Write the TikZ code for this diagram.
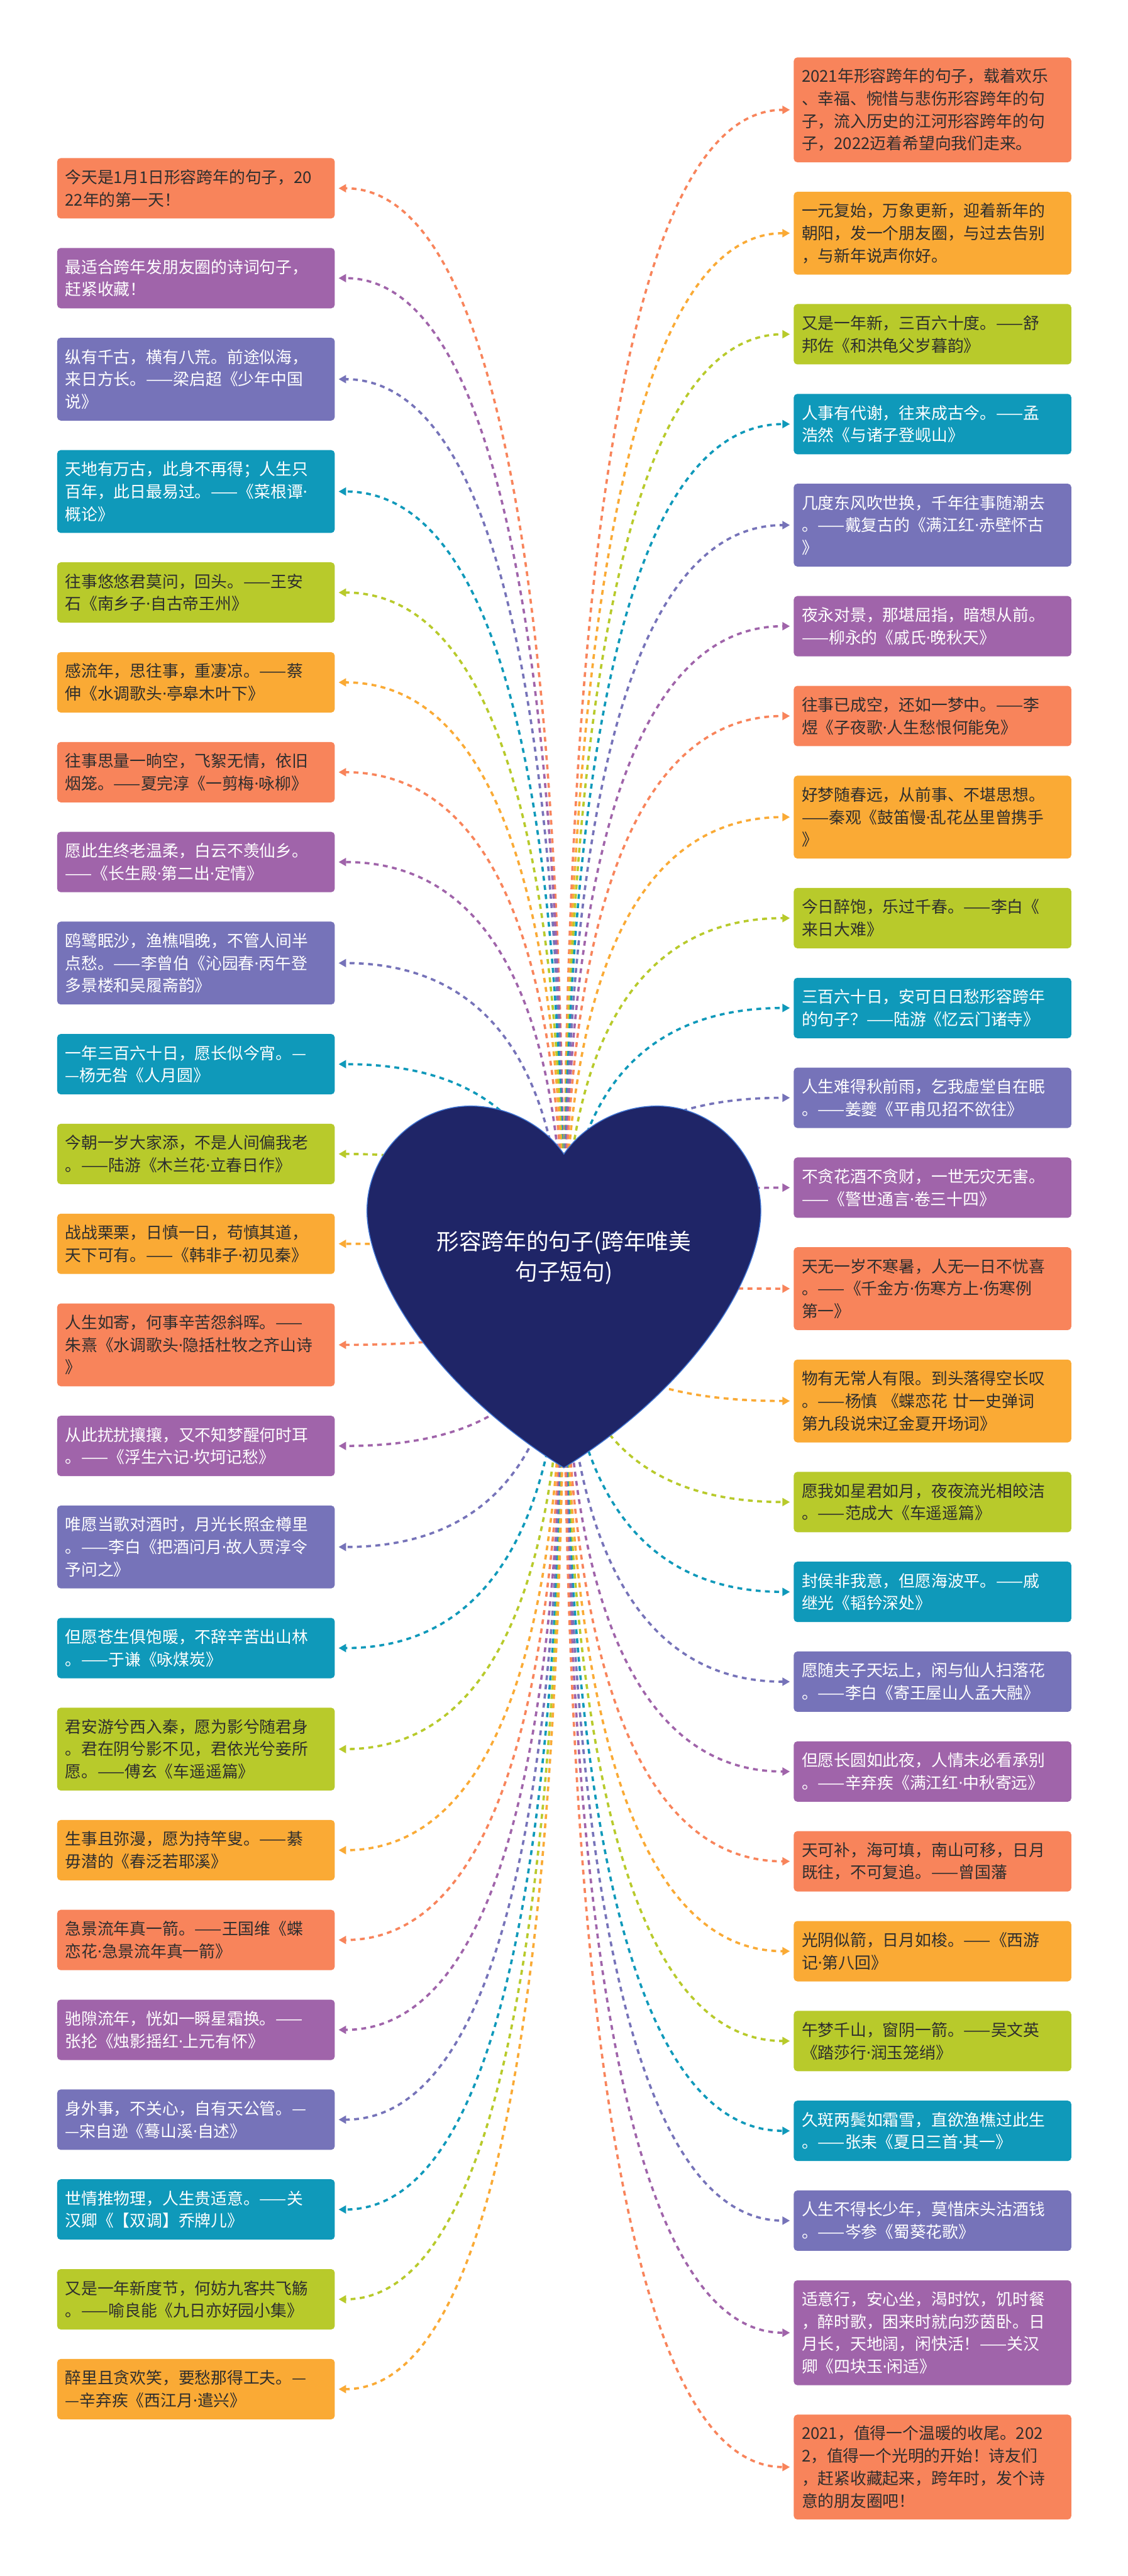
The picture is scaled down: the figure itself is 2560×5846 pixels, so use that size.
\documentclass[tikz,border=0pt]{standalone}
\usepackage{fontspec}
\newfontfamily\cjk{Noto Sans CJK SC}
\newfontfamily\latn{Noto Sans}
\newcommand{\md}{{\latn ·}}
\usetikzlibrary{arrows.meta,calc}
\definecolor{corange}{HTML}{F8845B}
\definecolor{cyellow}{HTML}{FAAA35}
\definecolor{cgreen}{HTML}{B8CA2B}
\definecolor{cteal}{HTML}{0F99BA}
\definecolor{cslate}{HTML}{7673B9}
\definecolor{cpurple}{HTML}{A064AA}
\definecolor{dtext}{HTML}{2E2E2E}
\definecolor{heartfill}{HTML}{1F2567}
\definecolor{heartline}{HTML}{3E74D4}
\tikzset{
  box/.style={rectangle, rounded corners=2pt, anchor=north west, minimum width=157.5pt,
    text width=148.5pt, inner xsep=4.5pt, inner ysep=0pt, align=left,
    font=\cjk\fontsize{9.2pt}{12.75pt}\selectfont},
  bh2/.style={minimum height=34.25pt},
  bh3/.style={minimum height=47pt},
  bh4/.style={minimum height=59.5pt},
  bxO/.style={box, fill=corange, text=dtext},
  bxY/.style={box, fill=cyellow, text=dtext},
  bxG/.style={box, fill=cgreen, text=dtext},
  bxT/.style={box, fill=cteal, text=white},
  bxS/.style={box, fill=cslate, text=white},
  bxP/.style={box, fill=cpurple, text=white},
  link/.style={line width=1.3pt, dash pattern=on 2.75pt off 2.5pt,
    -{Triangle[length=4.25pt,width=4.5pt]}, shorten >=2pt},
  titletext/.style={text=white, align=center, inner sep=0pt,
    font=\cjk\fontsize{12.75pt}{17.25pt}\selectfont}
}
\newcommand{\linkL}[2]{\draw[link,#2] (hc) .. controls ($(hc)!0.6667!(hc|-#1.east)$) and ($(#1.east)!0.6667!(hc|-#1.east)$) .. (#1.east);}
\newcommand{\linkR}[2]{\draw[link,#2] (hc) .. controls ($(hc)!0.6667!(hc|-#1.west)$) and ($(#1.west)!0.6667!(hc|-#1.west)$) .. (#1.west);}
\begin{document}
\begin{tikzpicture}[x=0.25pt,y=-0.25pt]
\fill[white] (0,0) rectangle (2560,5846);
\useasboundingbox (0,0) rectangle (2560,5846);
\coordinate (hc) at (1280,2900);
% left column
\node[bxO,bh2] (L1) at (129,358) {今天是1月1日形容跨年的句子，20\\22年的第一天！};
\node[bxP,bh2] (L2) at (129,561.9) {最适合跨年发朋友圈的诗词句子，\\赶紧收藏！};
\node[bxS,bh3] (L3) at (129,765.7) {纵有千古，横有八荒。前途似海，\\来日方长。——梁启超《少年中国\\说》};
\node[bxT,bh3] (L4) at (129,1020.6) {天地有万古，此身不再得；人生只\\百年，此日最易过。——《菜根谭\md\\概论》};
\node[bxG,bh2] (L5) at (129,1275.4) {往事悠悠君莫问，回头。——王安\\石《南乡子\md 自古帝王州》};
\node[bxY,bh2] (L6) at (129,1479.3) {感流年，思往事，重凄凉。——蔡\\伸《水调歌头\md 亭皋木叶下》};
\node[bxO,bh2] (L7) at (129,1683.1) {往事思量一晌空，飞絮无情，依旧\\烟笼。——夏完淳《一剪梅\md 咏柳》};
\node[bxP,bh2] (L8) at (129,1887) {愿此生终老温柔，白云不羡仙乡。\\——《长生殿\md 第二出\md 定情》};
\node[bxS,bh3] (L9) at (129,2090.8) {鸥鹭眠沙，渔樵唱晚，不管人间半\\点愁。——李曾伯《沁园春\md 丙午登\\多景楼和吴履斋韵》};
\node[bxT,bh2] (L10) at (129,2345.7) {一年三百六十日，愿长似今宵。—\\—杨无咎《人月圆》};
\node[bxG,bh2] (L11) at (129,2549.5) {今朝一岁大家添，不是人间偏我老\\。——陆游《木兰花\md 立春日作》};
\node[bxY,bh2] (L12) at (129,2753.4) {战战栗栗，日慎一日，苟慎其道，\\天下可有。——《韩非子\md 初见秦》};
\node[bxO,bh3] (L13) at (129,2957.2) {人生如寄，何事辛苦怨斜晖。——\\朱熹《水调歌头\md 隐括杜牧之齐山诗\\》};
\node[bxP,bh2] (L14) at (129,3212.1) {从此扰扰攘攘，又不知梦醒何时耳\\。——《浮生六记\md 坎坷记愁》};
\node[bxS,bh3] (L15) at (129,3415.9) {唯愿当歌对酒时，月光长照金樽里\\。——李白《把酒问月\md 故人贾淳令\\予问之》};
\node[bxT,bh2] (L16) at (129,3670.8) {但愿苍生俱饱暖，不辞辛苦出山林\\。——于谦《咏煤炭》};
\node[bxG,bh3] (L17) at (129,3874.6) {君安游兮西入秦，愿为影兮随君身\\。君在阴兮影不见，君依光兮妾所\\愿。——傅玄《车遥遥篇》};
\node[bxY,bh2] (L18) at (129,4129.5) {生事且弥漫，愿为持竿叟。——綦\\毋潜的《春泛若耶溪》};
\node[bxO,bh2] (L19) at (129,4333.3) {急景流年真一箭。——王国维《蝶\\恋花\md 急景流年真一箭》};
\node[bxP,bh2] (L20) at (129,4537.2) {驰隙流年，恍如一瞬星霜换。——\\张抡《烛影摇红\md 上元有怀》};
\node[bxS,bh2] (L21) at (129,4741) {身外事，不关心，自有天公管。—\\—宋自逊《蓦山溪\md 自述》};
\node[bxT,bh2] (L22) at (129,4944.9) {世情推物理，人生贵适意。——关\\汉卿《【双调】乔牌儿》};
\node[bxG,bh2] (L23) at (129,5148.7) {又是一年新度节，何妨九客共飞觞\\。——喻良能《九日亦好园小集》};
\node[bxY,bh2] (L24) at (129,5352.6) {醉里且贪欢笑，要愁那得工夫。—\\—辛弃疾《西江月\md 遣兴》};
% right column
\node[bxO,bh4] (R1) at (1801,129.5) {2021年形容跨年的句子，载着欢乐\\、幸福、惋惜与悲伤形容跨年的句\\子，流入历史的江河形容跨年的句\\子，2022迈着希望向我们走来。};
\node[bxY,bh3] (R2) at (1801,434.4) {一元复始，万象更新，迎着新年的\\朝阳，发一个朋友圈，与过去告别\\，与新年说声你好。};
\node[bxG,bh2] (R3) at (1801,689.2) {又是一年新，三百六十度。——舒\\邦佐《和洪龟父岁暮韵》};
\node[bxT,bh2] (R4) at (1801,893.1) {人事有代谢，往来成古今。——孟\\浩然《与诸子登岘山》};
\node[bxS,bh3] (R5) at (1801,1096.9) {几度东风吹世换，千年往事随潮去\\。——戴复古的《满江红\md 赤壁怀古\\》};
\node[bxP,bh2] (R6) at (1801,1351.8) {夜永对景，那堪屈指，暗想从前。\\——柳永的《戚氏\md 晚秋天》};
\node[bxO,bh2] (R7) at (1801,1555.6) {往事已成空，还如一梦中。——李\\煜《子夜歌\md 人生愁恨何能免》};
\node[bxY,bh3] (R8) at (1801,1759.5) {好梦随春远，从前事、不堪思想。\\——秦观《鼓笛慢\md 乱花丛里曾携手\\》};
\node[bxG,bh2] (R9) at (1801,2014.3) {今日醉饱，乐过千春。——李白《\\来日大难》};
\node[bxT,bh2] (R10) at (1801,2218.2) {三百六十日，安可日日愁形容跨年\\的句子？——陆游《忆云门诸寺》};
\node[bxS,bh2] (R11) at (1801,2422) {人生难得秋前雨，乞我虚堂自在眠\\。——姜夔《平甫见招不欲往》};
\node[bxP,bh2] (R12) at (1801,2625.9) {不贪花酒不贪财，一世无灾无害。\\——《警世通言\md 卷三十四》};
\node[bxO,bh3] (R13) at (1801,2829.7) {天无一岁不寒暑，人无一日不忧喜\\。——《千金方\md 伤寒方上\md 伤寒例\\第一》};
\node[bxY,bh3] (R14) at (1801,3084.6) {物有无常人有限。到头落得空长叹\\。——杨慎 《蝶恋花 廿一史弹词\\第九段说宋辽金夏开场词》};
\node[bxG,bh2] (R15) at (1801,3339.4) {愿我如星君如月，夜夜流光相皎洁\\。——范成大《车遥遥篇》};
\node[bxT,bh2] (R16) at (1801,3543.3) {封侯非我意，但愿海波平。——戚\\继光《韬钤深处》};
\node[bxS,bh2] (R17) at (1801,3747.1) {愿随夫子天坛上，闲与仙人扫落花\\。——李白《寄王屋山人孟大融》};
\node[bxP,bh2] (R18) at (1801,3951) {但愿长圆如此夜，人情未必看承别\\。——辛弃疾《满江红\md 中秋寄远》};
\node[bxO,bh2] (R19) at (1801,4154.8) {天可补，海可填，南山可移，日月\\既往，不可复追。——曾国藩};
\node[bxY,bh2] (R20) at (1801,4358.7) {光阴似箭，日月如梭。——《西游\\记\md 第八回》};
\node[bxG,bh2] (R21) at (1801,4562.5) {午梦千山，窗阴一箭。——吴文英\\《踏莎行\md 润玉笼绡》};
\node[bxT,bh2] (R22) at (1801,4766.4) {久斑两鬓如霜雪，直欲渔樵过此生\\。——张耒《夏日三首\md 其一》};
\node[bxS,bh2] (R23) at (1801,4970.2) {人生不得长少年，莫惜床头沽酒钱\\。——岑参《蜀葵花歌》};
\node[bxP,bh4] (R24) at (1801,5174.1) {适意行，安心坐，渴时饮，饥时餐\\，醉时歌，困来时就向莎茵卧。日\\月长，天地阔，闲快活！——关汉\\卿《四块玉\md 闲适》};
\node[bxO,bh4] (R25) at (1801,5478.9) {2021，值得一个温暖的收尾。202\\2，值得一个光明的开始！诗友们\\，赶紧收藏起来，跨年时，发个诗\\意的朋友圈吧！};
% connectors
\linkL{L1}{corange}\linkL{L2}{cpurple}\linkL{L3}{cslate}\linkL{L4}{cteal}
\linkL{L5}{cgreen}\linkL{L6}{cyellow}\linkL{L7}{corange}\linkL{L8}{cpurple}
\linkL{L9}{cslate}\linkL{L10}{cteal}\linkL{L11}{cgreen}\linkL{L12}{cyellow}
\linkL{L13}{corange}\linkL{L14}{cpurple}\linkL{L15}{cslate}\linkL{L16}{cteal}
\linkL{L17}{cgreen}\linkL{L18}{cyellow}\linkL{L19}{corange}\linkL{L20}{cpurple}
\linkL{L21}{cslate}\linkL{L22}{cteal}\linkL{L23}{cgreen}\linkL{L24}{cyellow}
\linkR{R1}{corange}\linkR{R2}{cyellow}\linkR{R3}{cgreen}\linkR{R4}{cteal}
\linkR{R5}{cslate}\linkR{R6}{cpurple}\linkR{R7}{corange}\linkR{R8}{cyellow}
\linkR{R9}{cgreen}\linkR{R10}{cteal}\linkR{R11}{cslate}\linkR{R12}{cpurple}
\linkR{R13}{corange}\linkR{R14}{cyellow}\linkR{R15}{cgreen}\linkR{R16}{cteal}
\linkR{R17}{cslate}\linkR{R18}{cpurple}\linkR{R19}{corange}\linkR{R20}{cyellow}
\linkR{R21}{cgreen}\linkR{R22}{cteal}\linkR{R23}{cslate}\linkR{R24}{cpurple}
\linkR{R25}{corange}
% heart
\filldraw[fill=heartfill, draw=heartline, line width=0.5pt]
  (1280,2619) .. controls (1240,2560) and (1160,2510) .. (1068,2510)
  .. controls (940,2510) and (833,2620) .. (833,2748)
  .. controls (833,2880) and (960,3130) .. (1280,3331)
  .. controls (1600,3130) and (1727,2880) .. (1727,2748)
  .. controls (1727,2620) and (1620,2510) .. (1492,2510)
  .. controls (1400,2510) and (1320,2560) .. (1280,2619) -- cycle;
\node[titletext] (title) at (1280,2854) {形容跨年的句子(跨年唯美\\句子短句)};
\end{tikzpicture}
\end{document}
